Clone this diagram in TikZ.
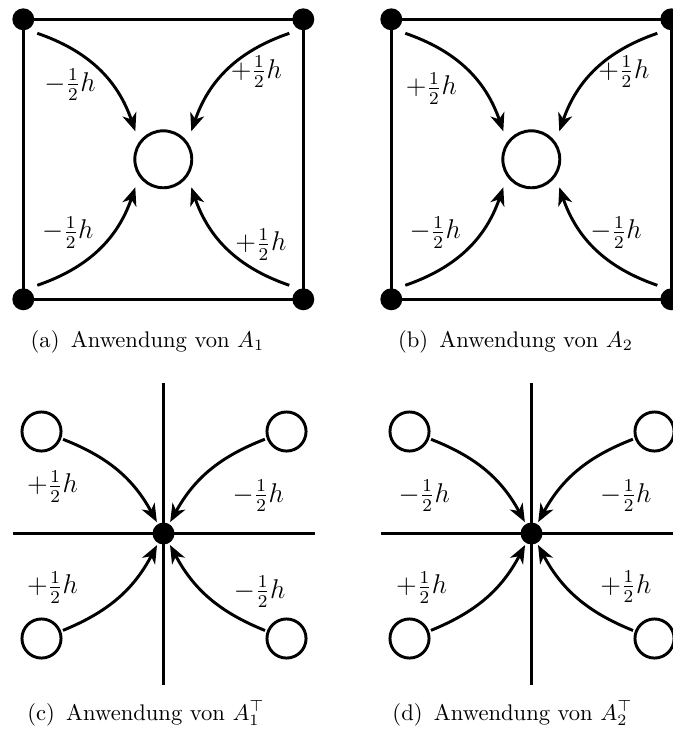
\documentclass[tikz,border=0pt]{standalone}
\usetikzlibrary{arrows.meta,calc}
\begin{document}
\begin{tikzpicture}[x=0.4425pt,y=-0.4425pt,line width=1.3pt,
  dot/.style={circle,fill,inner sep=0pt,minimum size=9.7pt,outer sep=1pt},
  cell/.style={circle,draw,inner sep=0pt,minimum size=25.2pt},
  ghost/.style={circle,draw,inner sep=0pt,minimum size=17.3pt,outer sep=1.5pt},
  flow/.style={-{Stealth[length=8pt,width=6.4pt,inset=2.4pt]}},
  weight/.style={font=\large,inner sep=0pt},
  subcap/.style={anchor=base,inner sep=0pt}]
\useasboundingbox (0,0) rectangle (673,729);

% (a) A_1
\begin{scope}[shift={(163.3,159.3)}]
\node[dot] (a1) at (-140,-140) {};
\node[dot] (a2) at (140,-140) {};
\node[dot] (a3) at (-140,140) {};
\node[dot] (a4) at (140,140) {};
\node[cell] (ac) at (0,0) {};
\draw (a1.center) -- (a2.center) -- (a4.center) -- (a3.center) -- cycle;
\draw[flow] ($(a1.center)!0.1!(ac.center)$) to[bend left=26] ($(a1.center)!0.8!(ac.center)$);
\draw[flow] ($(a2.center)!0.1!(ac.center)$) to[bend right=26] ($(a2.center)!0.8!(ac.center)$);
\draw[flow] ($(a3.center)!0.1!(ac.center)$) to[bend right=26] ($(a3.center)!0.8!(ac.center)$);
\draw[flow] ($(a4.center)!0.1!(ac.center)$) to[bend left=26] ($(a4.center)!0.8!(ac.center)$);
\node[weight] (la1) at (-93.3,-74.2) {$-\frac{1}{2}h$};
\node[weight] (la2) at (93,-87.5) {$+\frac{1}{2}h$};
\node[weight] (la3) at (-95.5,73) {$-\frac{1}{2}h$};
\node[weight] (la4) at (97.5,85) {$+\frac{1}{2}h$};
\node[subcap] (capa) at (-15.8,188) {(a)\enspace Anwendung von $A_1$};
\end{scope}

% (b) A_2
\begin{scope}[shift={(531.3,159.3)}]
\node[dot] (b1) at (-140,-140) {};
\node[dot] (b2) at (140,-140) {};
\node[dot] (b3) at (-140,140) {};
\node[dot] (b4) at (140,140) {};
\node[cell] (bc) at (0,0) {};
\draw (b1.center) -- (b2.center) -- (b4.center) -- (b3.center) -- cycle;
\draw[flow] ($(b1.center)!0.1!(bc.center)$) to[bend left=26] ($(b1.center)!0.8!(bc.center)$);
\draw[flow] ($(b2.center)!0.1!(bc.center)$) to[bend right=26] ($(b2.center)!0.8!(bc.center)$);
\draw[flow] ($(b3.center)!0.1!(bc.center)$) to[bend right=26] ($(b3.center)!0.8!(bc.center)$);
\draw[flow] ($(b4.center)!0.1!(bc.center)$) to[bend left=26] ($(b4.center)!0.8!(bc.center)$);
\node[weight] (lb1) at (-100,-71) {$+\frac{1}{2}h$};
\node[weight] (lb2) at (92.5,-87.5) {$+\frac{1}{2}h$};
\node[weight] (lb3) at (-96,73) {$-\frac{1}{2}h$};
\node[weight] (lb4) at (84.7,73) {$-\frac{1}{2}h$};
\node[subcap] (capb) at (-15.8,188) {(b)\enspace Anwendung von $A_2$};
\end{scope}

% (c) A_1^T
\begin{scope}[shift={(163.5,533.5)}]
\draw (0,-151) -- (0,151);
\draw (-151,0) -- (151,0);
\node[dot] (cc) at (0,0) {};
\node[ghost] (c1) at (-122,-102) {};
\node[ghost] (c2) at (123,-102) {};
\node[ghost] (c3) at (-122,105) {};
\node[ghost] (c4) at (123,105) {};
\draw[flow] (c1) to[bend left=20] (cc);
\draw[flow] (c2) to[bend right=20] (cc);
\draw[flow] (c3) to[bend right=20] (cc);
\draw[flow] (c4) to[bend left=20] (cc);
\node[weight] (lc1) at (-111,-47) {$+\frac{1}{2}h$};
\node[weight] (lc2) at (94.8,-37.5) {$-\frac{1}{2}h$};
\node[weight] (lc3) at (-111,54) {$+\frac{1}{2}h$};
\node[weight] (lc4) at (96.2,58.2) {$-\frac{1}{2}h$};
\node[subcap] (capc) at (-17.5,186.5) {(c)\enspace Anwendung von $A_1^\top$};
\end{scope}

% (d) A_2^T
\begin{scope}[shift={(531.5,533.5)}]
\draw (0,-151) -- (0,151);
\draw (-151,0) -- (151,0);
\node[dot] (dc) at (0,0) {};
\node[ghost] (d1) at (-122,-102) {};
\node[ghost] (d2) at (123,-102) {};
\node[ghost] (d3) at (-122,105) {};
\node[ghost] (d4) at (123,105) {};
\draw[flow] (d1) to[bend left=20] (dc);
\draw[flow] (d2) to[bend right=20] (dc);
\draw[flow] (d3) to[bend right=20] (dc);
\draw[flow] (d4) to[bend left=20] (dc);
\node[weight] (ld1) at (-107.3,-37.5) {$-\frac{1}{2}h$};
\node[weight] (ld2) at (94.3,-37.5) {$-\frac{1}{2}h$};
\node[weight] (ld3) at (-109.8,54) {$+\frac{1}{2}h$};
\node[weight] (ld4) at (94.3,53.2) {$+\frac{1}{2}h$};
\node[subcap] (capd) at (-19,186.5) {(d)\enspace Anwendung von $A_2^\top$};
\end{scope}
\end{tikzpicture}
\end{document}
